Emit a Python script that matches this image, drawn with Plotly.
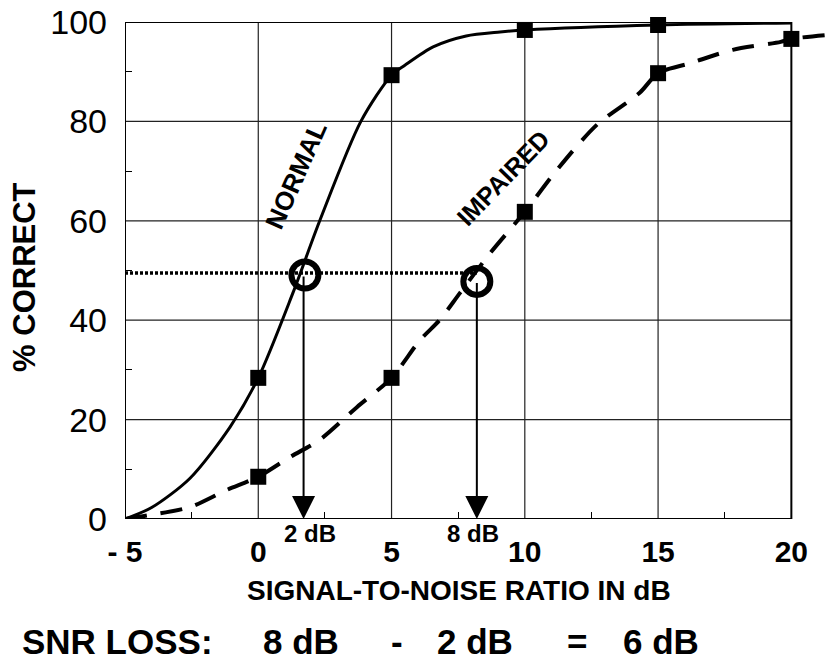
import plotly.graph_objects as go

# ---- data ----
# measured points (squares)
normal_x = [0, 5, 10, 15]
normal_y = [28.4, 89.3, 98.4, 99.4]
impaired_x = [0, 5, 10, 15, 20]
impaired_y = [8.5, 28.4, 61.8, 89.7, 96.6]

# fitted curves
normal_curve_x = [-5, -4.0, -2.56, -1.06, 0, 1.3, 2.32, 3.85, 5, 5.5, 6.56, 7.8, 9.07, 10, 15, 20]
normal_curve_y = [0, 2.3, 8.2, 18.5, 28.4, 45.5, 60.2, 80, 89.3, 91.3, 95, 97.2, 98, 98.4, 99.4, 99.8]
impaired_curve_x = [-5, -4.06, -2.56, -1.2, 0, 1.2, 2.3, 3.7, 5, 6.07, 6.8, 7.57, 8.7, 10, 11.2,
                    12.7, 14.3, 15, 16.2, 17.8, 19.6, 20, 21.75]
impaired_curve_y = [0, 0.8, 2.4, 5.8, 8.5, 12.5, 15.9, 22.5, 28.4, 36, 40, 45.5, 53.5, 61.8, 70.2,
                    79.3, 85.7, 89.7, 91.7, 94.4, 96, 96.6, 97.6]

# 50% thresholds
threshold_x = [1.75, 8.2]
threshold_y = [49.1, 47.8]
criterion = 49.5
arrow_x = [1.7, 8.2]
arrow_labels = ["2 dB", "8 dB"]
arrow_label_x = [1.94, 8.06]

x_ticks = [-5, 0, 5, 10, 15, 20]
x_ticktext = ["- 5", "0", "5", "10", "15", "20"]
y_ticks = [0, 20, 40, 60, 80, 100]
x_minor = [-2.5, 2.5, 7.5, 12.5, 17.5]
y_minor = [10, 30, 50, 70, 90]

BOLD = "Liberation Sans, Arial, sans-serif"
REG = "Liberation Sans, Arial, sans-serif"

fig = go.Figure()

# grid + frame
shapes = []
for xv in x_ticks[1:-1]:
    shapes.append(dict(type="line", xref="x", yref="y", x0=xv, x1=xv, y0=0, y1=100,
                       line=dict(color="#222", width=1.2), layer="below"))
for yv in y_ticks[1:-1]:
    shapes.append(dict(type="line", xref="x", yref="y", x0=-5, x1=20, y0=yv, y1=yv,
                       line=dict(color="#222", width=1.2), layer="below"))
shapes.append(dict(type="rect", xref="x", yref="y", x0=-5, x1=20, y0=0, y1=100,
                   line=dict(color="black", width=2), layer="below"))

# dotted criterion line
fig.add_trace(go.Scatter(x=[-5, threshold_x[1]], y=[criterion, criterion], mode="lines",
                         line=dict(color="black", width=3.5, dash="3px,2px"), hoverinfo="skip"))

fig.add_trace(go.Scatter(x=normal_curve_x, y=normal_curve_y, mode="lines",
                         line=dict(color="black", width=3, shape="spline", smoothing=0.8)))
fig.add_trace(go.Scatter(x=impaired_curve_x, y=impaired_curve_y, mode="lines",
                         line=dict(color="black", width=4, shape="spline", smoothing=0.8,
                                   dash="22px,14px")))
fig.add_trace(go.Scatter(x=normal_x, y=normal_y, mode="markers", cliponaxis=False,
                         marker=dict(symbol="square", size=16, color="black")))
fig.add_trace(go.Scatter(x=impaired_x, y=impaired_y, mode="markers", cliponaxis=False,
                         marker=dict(symbol="square", size=16, color="black")))
fig.add_trace(go.Scatter(x=threshold_x, y=threshold_y, mode="markers", cliponaxis=False,
                         marker=dict(symbol="circle-open", size=27, color="black",
                                     line=dict(width=6, color="black"))))

annotations = []
for ax_, ty in zip(arrow_x, threshold_y):
    annotations.append(dict(x=ax_, y=0, ax=ax_, ay=ty, xref="x", yref="y", axref="x", ayref="y",
                            text="", showarrow=True, arrowhead=2, arrowwidth=2, arrowsize=2.3,
                            arrowcolor="black", standoff=0))
for lx, lab in zip(arrow_label_x, arrow_labels):
    annotations.append(dict(x=lx, y=-0.0282, xref="x", yref="paper", xanchor="center",
                            yanchor="middle", text=f"<b>{lab}</b>", showarrow=False,
                            font=dict(family=BOLD, size=24, color="black")))
annotations.append(dict(x=1.42, y=69.2, xref="x", yref="y", text="<b>NORMAL</b>", showarrow=False,
                        textangle=-66, xanchor="center", yanchor="middle",
                        font=dict(family=BOLD, size=26, color="black")))
annotations.append(dict(x=9.18, y=68.6, xref="x", yref="y", text="<b>IMPAIRED</b>", showarrow=False,
                        textangle=-46, xanchor="center", yanchor="middle",
                        font=dict(family=BOLD, size=25, color="black")))

# axis titles
annotations.append(dict(x=0.4684, y=-0.1429, xref="paper", yref="paper", xanchor="center",
                        yanchor="middle", text="<b>SIGNAL-TO-NOISE RATIO IN dB</b>", showarrow=False,
                        font=dict(family=BOLD, size=28, color="black")))
annotations.append(dict(x=-0.1403, y=0.487, xref="paper", yref="paper", xanchor="center",
                        yanchor="middle", text="<b>% CORRECT</b>", showarrow=False, textangle=-90,
                        font=dict(family=BOLD, size=31, color="black")))

# bottom formula
bottom = [("SNR LOSS:", -0.1473, "left"), ("8 dB", 0.2468, "center"), ("-", 0.3815, "center"),
          ("2 dB", 0.4909, "center"), ("=", 0.634, "center"), ("6 dB", 0.7518, "center")]
for txt, px, anc in bottom:
    annotations.append(dict(x=px, y=-0.2455, xref="paper", yref="paper", xanchor=anc,
                            yanchor="middle", text=f"<b>{txt}</b>", showarrow=False,
                            font=dict(family=BOLD, size=35, color="black")))

fig.update_layout(
    width=838, height=669,
    margin=dict(l=125, r=0, t=22, b=150),
    plot_bgcolor="white", paper_bgcolor="white",
    showlegend=False,
    shapes=shapes, annotations=annotations,
    xaxis=dict(range=[-5, 21.75], showgrid=False, zeroline=False, showline=False,
               tickmode="array", tickvals=x_ticks, ticktext=[f"<b>{t}</b>" for t in x_ticktext],
               tickfont=dict(family=BOLD, size=30, color="black"), ticks="",
               ticklabelstandoff=12,
               minor=dict(tickmode="array", tickvals=x_minor, ticks="inside", ticklen=7,
                          tickwidth=1, tickcolor="black", showgrid=False)),
    yaxis=dict(range=[0, 100], showgrid=False, zeroline=False, showline=False,
               tickmode="array", tickvals=y_ticks,
               tickfont=dict(family=REG, size=34, color="black"), ticks="",
               ticklabelstandoff=17,
               minor=dict(tickmode="array", tickvals=y_minor, ticks="inside", ticklen=7,
                          tickwidth=1, tickcolor="black", showgrid=False)),
)

fig.write_html("out.html")
